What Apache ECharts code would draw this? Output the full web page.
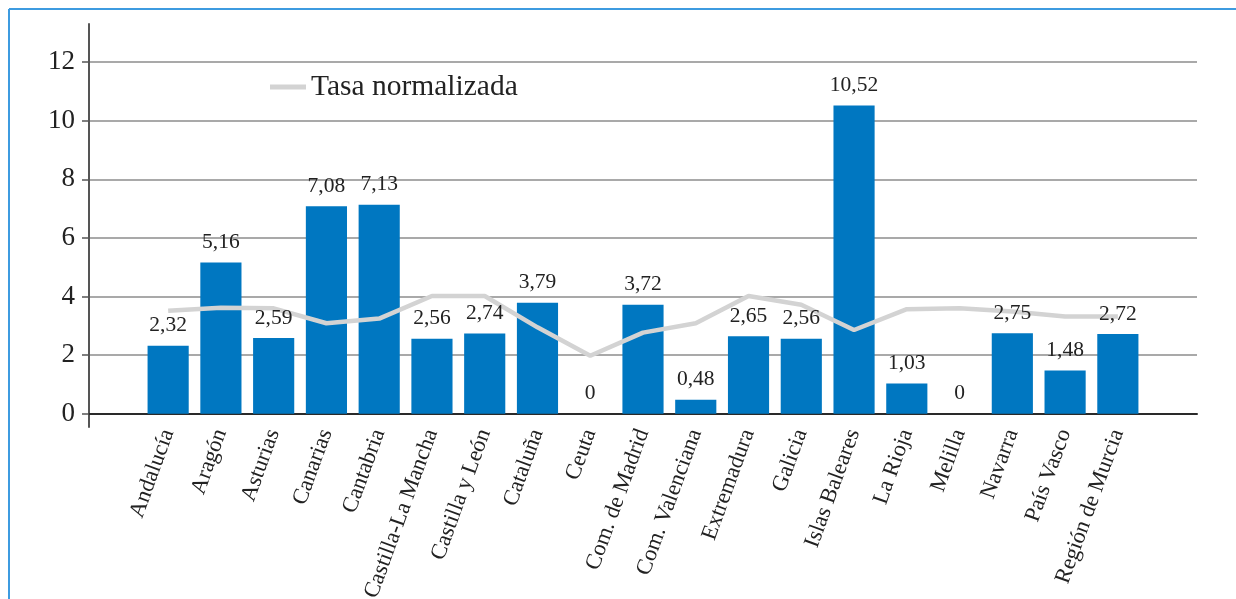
<!DOCTYPE html>
<html>
<head>
<meta charset="utf-8">
<script src="https://cdn.jsdelivr.net/npm/echarts@6/dist/echarts.min.js"></script>
<style>
  html, body { margin: 0; padding: 0; background: #fff; }
  #chart { width: 1236px; height: 599px; }
</style>
</head>
<body>
<div id="chart"></div>
<script>
// comunidades autónomas
const categories = ['Andalucía', 'Aragón', 'Asturias', 'Canarias', 'Cantabria',
  'Castilla-La Mancha', 'Castilla y León', 'Cataluña', 'Ceuta', 'Com. de Madrid',
  'Com. Valenciana', 'Extremadura', 'Galicia', 'Islas Baleares', 'La Rioja',
  'Melilla', 'Navarra', 'País Vasco', 'Región de Murcia']
// valores de las barras (etiquetas)
const barValues = [2.32, 5.16, 2.59, 7.08, 7.13, 2.56, 2.74, 3.79, 0, 3.72,
  0.48, 2.65, 2.56, 10.52, 1.03, 0, 2.75, 1.48, 2.72]
// tasa normalizada (línea gris)
const tasaNormalizada = [3.52, 3.62, 3.6, 3.09, 3.25, 4.02, 4.02, 2.95, 1.98, 2.77,
  3.09, 4.02, 3.72, 2.86, 3.57, 3.6, 3.49, 3.32, 3.32]
const yTicks = [0, 2, 4, 6, 8, 10, 12]
</script>
<script>
const font = 'Liberation Serif'
// un hueco vacío a cada lado del eje, como en el original
const axisData = [''].concat(categories, [''])
const bars = [null].concat(barValues, [null])
const line = [null].concat(tasaNormalizada, [null])

const chart = echarts.init(document.getElementById('chart'))
chart.setOption({
  animation: false,
  backgroundColor: '#fff',
  textStyle: { fontFamily: font },
  grid: { left: 89, right: 39, top: 24, bottom: 172, outerBoundsMode: 'none', containLabel: false },
  legend: {
    left: 265, top: 67,
    itemWidth: 36, itemHeight: 5, itemGap: 16,
    textStyle: { fontFamily: font, fontSize: 29.5, color: '#222' },
    data: [{ name: 'Tasa normalizada', icon: 'rect', itemStyle: { color: '#d3d3d3' } }]
  },
  xAxis: {
    type: 'category',
    data: axisData,
    boundaryGap: true,
    axisLine: { onZero: true, lineStyle: { color: '#2a2a2a', width: 2 } },
    axisTick: { show: false },
    axisLabel: {
      interval: 0, rotate: 70, margin: 3,
      fontFamily: font, fontSize: 22.5, color: '#222'
    }
  },
  yAxis: {
    type: 'value',
    min: -0.45, max: 13.3,
    axisLine: { show: true, lineStyle: { color: '#555', width: 2 } },
    axisTick: { show: true, length: 7, customValues: yTicks, lineStyle: { color: '#555', width: 1.5 } },
    axisLabel: {
      customValues: yTicks, margin: 14, padding: [4, 0, 0, 0],
      fontFamily: font, fontSize: 27, color: '#222'
    },
    splitLine: { show: true, lineStyle: { color: '#a9a9a9', width: 2 } }
  },
  series: [
    {
      name: 'Barras',
      type: 'bar',
      data: bars,
      barCategoryGap: '22%',
      itemStyle: { color: '#0077c1' },
      z: 2
    },
    {
      name: 'Tasa normalizada',
      type: 'line',
      data: line,
      symbol: 'none',
      connectNulls: false,
      itemStyle: { color: '#d3d3d3' },
      lineStyle: { color: '#d3d3d3', width: 4.5 },
      z: 3
    },
    {
      // sólo las etiquetas, por encima de la línea
      name: 'Etiquetas',
      type: 'bar',
      data: bars,
      barGap: '-100%',
      barCategoryGap: '22%',
      itemStyle: { color: 'rgba(0,0,0,0)' },
      label: {
        show: true, position: 'top', distance: 9,
        fontFamily: font, fontSize: 21.5, color: '#222',
        formatter: p => String(p.value).replace('.', ',')
      },
      z: 4
    }
  ],
  graphic: [
    // marco azul claro (arriba e izquierda)
    { type: 'line', shape: { x1: 9, y1: 9, x2: 1236, y2: 9 }, style: { stroke: '#3d9be0', lineWidth: 2 } },
    { type: 'line', shape: { x1: 9, y1: 9, x2: 9, y2: 599 }, style: { stroke: '#3d9be0', lineWidth: 2 } }
  ]
})
</script>
</body>
</html>
